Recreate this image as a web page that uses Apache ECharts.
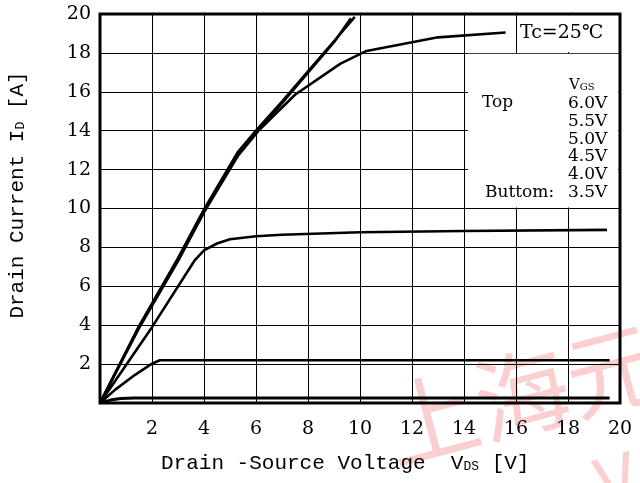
<!DOCTYPE html>
<html>
<head>
<meta charset="utf-8">
<script src="https://cdn.jsdelivr.net/npm/echarts@6/dist/echarts.min.js"></script>
<style>
html,body{margin:0;padding:0;background:#fff;}
#c{width:640px;height:483px;}
</style>
</head>
<body>
<div id="c"></div>
<script>
// Vgs curves: [Vds (V), Id (A)]
var vgs60 = [[0,0],[1.5,3.95],[3,7.45],[4,9.95],[5.3,12.9],[6,14.0],[7,15.5],[8,17.05],[9,18.6],[9.8,19.85]];
var vgs55 = [[0,0],[1.5,3.9],[3,7.38],[4,9.88],[5.3,12.8],[6,13.9],[7,15.42],[8,16.98],[9,18.55],[9.65,19.78]];
var vgs50 = [[0,0],[1.5,3.85],[3,7.3],[4,9.8],[5.3,12.7],[6.1,14.0],[7.5,15.85],[9.25,17.45],[10.25,18.1],[13,18.8],[15.6,19.05]];
var vgs45 = [[0,0],[2,3.9],[3.65,7.35],[4,7.85],[4.5,8.2],[5,8.42],[6,8.57],[7,8.65],[10,8.78],[14,8.84],[19.5,8.9]];
var vgs40 = [[0,0],[0.6,0.7],[1.35,1.45],[2,2.02],[2.3,2.2],[19.6,2.2]];
var vgs35 = [[0,0],[0.4,0.15],[0.8,0.23],[1.35,0.26],[19.6,0.26]];
var seriesNames = ['6.0V','5.5V','5.0V','4.5V','4.0V','3.5V'];
var xTicks = [0,2,4,6,8,10,12,14,16,18,20];
var yTicks = [0,2,4,6,8,10,12,14,16,18,20];
// white masks for legend area and Tc box (data coords)
var legendMask = [[14.15,10.05],[19.93,17.95]];
var tcMask = [[16.05,18.05],[19.93,19.93]];

var chart = echarts.init(document.getElementById('c'), null, {renderer:'canvas'});
var tickFont = 'DejaVu Serif';
var monoFont = 'Liberation Mono';
function mkSeries(name, data, extra){
  var s = {
    name:name, type:'line', data:data, showSymbol:false, symbol:'none',
    lineStyle:{color:'#000', width:2.6}, animation:false, z:3
  };
  if(extra){ for(var k in extra) s[k]=extra[k]; }
  return s;
}
var wm = 'rgba(246,140,140,0.42)';
var option = {
  animation:false,
  backgroundColor:'#fff',
  grid:{left:100, right:20, top:14, bottom:80, show:true, borderColor:'#000', borderWidth:3, backgroundColor:'transparent', z:4},
  xAxis:{
    type:'value', min:xTicks[0], max:xTicks[xTicks.length-1], interval:2,
    axisLine:{show:false}, axisTick:{show:false},
    splitLine:{show:true, lineStyle:{color:'#000', width:1}},
    axisLabel:{color:'#000', fontFamily:tickFont, fontSize:19, margin:17,
      formatter:function(v){return v===0?'':String(v);}}
  },
  yAxis:{
    type:'value', min:yTicks[0], max:yTicks[yTicks.length-1], interval:2,
    axisLine:{show:false}, axisTick:{show:false},
    splitLine:{show:true, lineStyle:{color:'#000', width:1}},
    axisLabel:{color:'#000', fontFamily:tickFont, fontSize:19, margin:9,
      formatter:function(v){return v===0?'':String(v);}}
  },
  series:[
    {type:'line', data:[], z:2, silent:true,
      markArea:{silent:true, itemStyle:{color:'#fff', opacity:1}, data:[
        [{coord:legendMask[0]},{coord:legendMask[1]}],
        [{coord:tcMask[0]},{coord:tcMask[1]}]
      ]}},
    mkSeries(seriesNames[0], vgs60),
    mkSeries(seriesNames[1], vgs55),
    mkSeries(seriesNames[2], vgs50),
    mkSeries(seriesNames[3], vgs45),
    mkSeries(seriesNames[4], vgs40),
    mkSeries(seriesNames[5], vgs35, {lineStyle:{color:'#000', width:3}})
  ],
  graphic:[
    // watermark
    {type:'text', x:522, y:394, rotation:0.26, z:-10, silent:true,
      style:{text:'上海元', fill:wm, font:'94px "Noto Sans CJK SC"', textAlign:'center', textVerticalAlign:'middle'}},
    {type:'text', x:616, y:480, rotation:0.26, z:-10, silent:true,
      style:{text:'V', fill:wm, font:'70px "Noto Sans CJK SC"', textAlign:'center', textVerticalAlign:'middle'}},
    // y axis title
    {type:'text', x:17, y:195, rotation:Math.PI/2, z:20,
      style:{text:'{a|Drain Current I}{s|D}{a| [A]}', textAlign:'center', textVerticalAlign:'middle',
        rich:{a:{fontFamily:monoFont, fontSize:21, fill:'#000', color:'#000'}, s:{fontFamily:monoFont, fontSize:13, fill:'#000', color:'#000', verticalAlign:'bottom'}}}},
    // x axis title
    {type:'text', x:161, y:463, z:20,
      style:{text:'{a|Drain -Source Voltage  V}{s|DS}{a| [V]}', textAlign:'left', textVerticalAlign:'middle',
        rich:{a:{fontFamily:monoFont, fontSize:21, fill:'#000', color:'#000'}, s:{fontFamily:monoFont, fontSize:13, fill:'#000', color:'#000', verticalAlign:'bottom'}}}},
    // Tc box
    {type:'text', x:520, y:33, z:20,
      style:{text:'Tc=25℃', font:'19px "DejaVu Serif"', fill:'#000', textAlign:'left', textVerticalAlign:'middle'}},
    // legend texts
    {type:'text', x:569, y:85, z:20,
      style:{text:'{a|V}{s|GS}', textAlign:'left', textVerticalAlign:'middle',
        rich:{a:{fontFamily:tickFont, fontSize:15, fill:'#000'}, s:{fontFamily:tickFont, fontSize:10, fill:'#000', verticalAlign:'bottom'}}}},
    {type:'text', x:482, y:103, z:20, style:{text:'Top', font:'17px "DejaVu Serif"', fill:'#000', textAlign:'left', textVerticalAlign:'middle'}},
    {type:'text', x:485, y:192.5, z:20, style:{text:'Buttom:', font:'17px "DejaVu Serif"', fill:'#000', textAlign:'left', textVerticalAlign:'middle'}},
    {type:'text', x:568, y:103.5, z:20, style:{text:seriesNames[0], font:'17px "DejaVu Serif"', fill:'#000', textAlign:'left', textVerticalAlign:'middle'}},
    {type:'text', x:568, y:121.3, z:20, style:{text:seriesNames[1], font:'17px "DejaVu Serif"', fill:'#000', textAlign:'left', textVerticalAlign:'middle'}},
    {type:'text', x:568, y:139.1, z:20, style:{text:seriesNames[2], font:'17px "DejaVu Serif"', fill:'#000', textAlign:'left', textVerticalAlign:'middle'}},
    {type:'text', x:568, y:156.9, z:20, style:{text:seriesNames[3], font:'17px "DejaVu Serif"', fill:'#000', textAlign:'left', textVerticalAlign:'middle'}},
    {type:'text', x:568, y:174.7, z:20, style:{text:seriesNames[4], font:'17px "DejaVu Serif"', fill:'#000', textAlign:'left', textVerticalAlign:'middle'}},
    {type:'text', x:568, y:192.5, z:20, style:{text:seriesNames[5], font:'17px "DejaVu Serif"', fill:'#000', textAlign:'left', textVerticalAlign:'middle'}}
  ]
};
chart.setOption(option);
</script>
</body>
</html>
